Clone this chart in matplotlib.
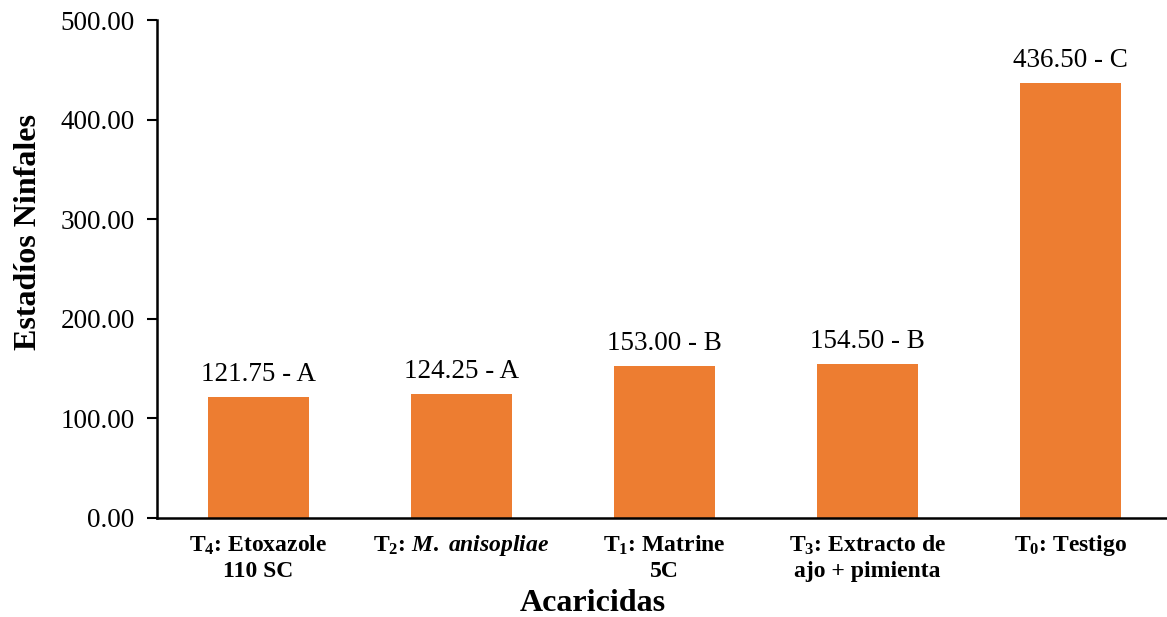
import numpy as np
import matplotlib
matplotlib.use("Agg")
import matplotlib.pyplot as plt

plt.rcParams['font.family'] = ['Liberation Serif', 'DejaVu Serif']
plt.rcParams['mathtext.fontset'] = 'custom'
plt.rcParams['mathtext.rm'] = 'Liberation Serif:bold'
plt.rcParams['mathtext.it'] = 'Liberation Serif:bold:italic'
plt.rcParams['mathtext.bf'] = 'Liberation Serif:bold'
plt.rcParams['mathtext.default'] = 'rm'

# Data
categories = [
    "T$_4$: Etoxazole\n110 SC",
    r"T$_2$: $\mathit{M.}$ $\mathit{anisopliae}$",
    "T$_1$: Matrine\n5C",
    "T$_3$: Extracto de\najo + pimienta",
    "T$_0$: Testigo",
]
values = [121.75, 124.25, 153.00, 154.50, 436.50]
letters = ["A", "A", "B", "B", "C"]

fig = plt.figure(figsize=(11.67, 6.17), dpi=100)
ax = fig.add_axes([0.1345, 0.1605, 0.87, 0.807])

x = np.arange(len(values))
bars = ax.bar(x, values, width=0.5, color='#ED7D31')

# value + significance letter above each bar
for xi, v, l in zip(x, values, letters):
    ax.text(xi, v + 10, f"{v:.2f} - {l}", ha='center', va='bottom', fontsize=19.5)

ax.set_xlim(-0.5, 4.5)
ax.set_ylim(0, 500)
ax.set_yticks(np.arange(0, 501, 100))
ax.set_yticklabels([f"{t:.2f}" for t in np.arange(0, 501, 100)], fontsize=19.5)
ax.set_xticks(x)
ax.set_xticklabels(categories, fontsize=17, fontweight='bold', linespacing=1.25)
ax.tick_params(axis='x', length=0, pad=11)
ax.tick_params(axis='y', direction='out', length=7, width=1.5, pad=9)

for s in ['top', 'right']:
    ax.spines[s].set_visible(False)
for s in ['left', 'bottom']:
    ax.spines[s].set_linewidth(1.8)

ax.set_ylabel("Estadíos Ninfales", fontsize=23, fontweight='bold')
ax.set_xlabel("Acaricidas", fontsize=23, fontweight='bold')
ax.yaxis.set_label_coords(-0.112, 0.574)
ax.xaxis.set_label_coords(0.4296, -0.143)

fig.savefig("out.png", dpi=100)
